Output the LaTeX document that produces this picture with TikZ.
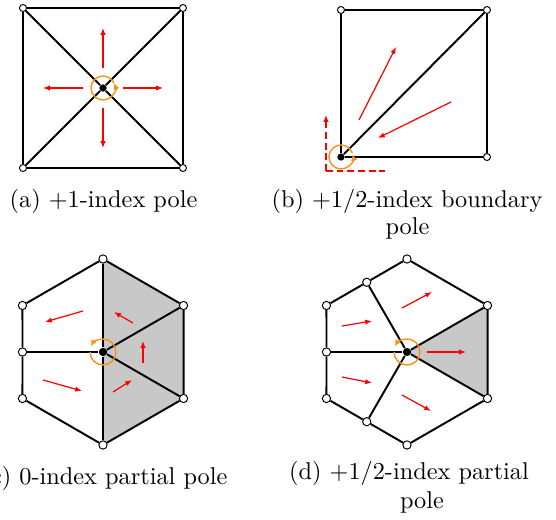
\documentclass[tikz,border=0pt]{standalone}
\usepackage{tikz}
\usetikzlibrary{arrows.meta,positioning,backgrounds}
\definecolor{Flow}{HTML}{FF0000}
\definecolor{Turn}{HTML}{F7931E}
\definecolor{Shade}{HTML}{C8C8C8}

\begin{document}
\begin{tikzpicture}[
  x=0.4115pt,y=0.4115pt,
  edge/.style={line width=0.8pt,draw=black},
  vtx/.style={circle,draw=black,fill=white,line width=0.4pt,inner sep=0pt,minimum size=2.9pt},
  bvtx/.style={vtx,minimum size=3.4pt},
  pole/.style={circle,fill=black,inner sep=0pt,minimum size=3pt},
  bpole/.style={pole,minimum size=3.4pt},
  vec/.style={-{Latex[length=2.8pt,width=2.2pt]},line width=0.5pt,draw=Flow},
  axisline/.style={line width=0.5pt,draw=Flow,dash pattern=on 2.8pt off 1.6pt},
  turn/.style={-{Latex[length=2.6pt,width=2.6pt]},line width=0.6pt,draw=Turn},
  subcap/.style={anchor=base,font=\normalsize}
]
\useasboundingbox (0,0) rectangle (556,520);

\begin{scope}[shift={(103,432)}]
\node[pole] (ap) at (0,0) {};
\node[vtx] (a1) at (-80,80) {};
\node[vtx] (a2) at (80,80) {};
\node[vtx] (a3) at (80,-80) {};
\node[vtx] (a4) at (-80,-80) {};
\draw[edge] (a1) -- (a2) -- (a3) -- (a4) -- (a1);
\draw[edge] (a1) -- (ap) -- (a3);
\draw[edge] (a2) -- (ap) -- (a4);
\foreach \ang in {0,90,180,270}
  \draw[vec] (\ang:20) -- (\ang:60);
\draw[turn] (25:12) arc[start angle=25,end angle=383,radius=12];
\end{scope}

\begin{scope}[shift={(341,363)}]
\node[pole] (bp) at (0,0) {};
\node[vtx] (b1) at (0,147) {};
\node[vtx] (b2) at (146,147) {};
\node[vtx] (b3) at (146,0) {};
\draw[edge] (bp) -- (b1) -- (b2) -- (b3) -- (bp);
\draw[edge] (bp) -- (b2);
\draw[vec] (18,37) -- (55,110);
\draw[vec] (110,55) -- (37,19);
\coordinate (bo) at (-15,-14);
\draw[axisline,-{Latex[length=2.8pt,width=2.2pt]}] (bo) -- ++(0,56);
\draw[axisline] (bo) -- ++(59,0);
\draw[turn] (20:12) arc[start angle=20,end angle=373,radius=12];
\end{scope}

\begin{scope}[shift={(103,168)}]
\node[bpole] (cp) at (0,0) {};
\node[bvtx] (c1) at (90:93) {};
\node[bvtx] (c2) at (30:93) {};
\node[bvtx] (c3) at (-30:93) {};
\node[bvtx] (c4) at (-90:93) {};
\node[bvtx] (c5) at (210:93) {};
\node[bvtx] (c6) at (180:80.5) {};
\node[bvtx] (c7) at (150:93) {};
\begin{scope}[on background layer]
\fill[Shade] (c1.center) -- (c2.center) -- (c3.center) -- (c4.center) -- (cp.center) -- cycle;
\end{scope}
\draw[edge] (c1) -- (c2) -- (c3) -- (c4) -- (c5) -- (c6) -- (c7) -- (c1);
\draw[edge] (c1) -- (cp) -- (c4);
\draw[edge] (c6) -- (cp);
\draw[edge] (c2) -- (cp) -- (c3);
\draw[vec] (-20,41) -- (-58,30);
\draw[vec] (-60,-28) -- (-21,-39);
\draw[vec] (30,29) -- (11,40);
\draw[vec] (40,-11) -- (40,11);
\draw[vec] (10,-40) -- (29,-28);
\draw[turn] (180:13) arc[start angle=180,end angle=515,radius=13];
\end{scope}

\begin{scope}[shift={(407,168)}]
\node[bpole] (dp) at (0,0) {};
\node[bvtx] (d1) at (90:93) {};
\node[bvtx] (d2) at (30:93) {};
\node[bvtx] (d3) at (-30:93) {};
\node[bvtx] (d4) at (-90:93) {};
\node[bvtx] (d5) at (240:80.5) {};
\node[bvtx] (d6) at (210:93) {};
\node[bvtx] (d7) at (180:80.5) {};
\node[bvtx] (d8) at (150:93) {};
\node[bvtx] (d9) at (120:80.5) {};
\begin{scope}[on background layer]
\fill[Shade] (dp.center) -- (d2.center) -- (d3.center) -- cycle;
\end{scope}
\draw[edge] (d1) -- (d2) -- (d3) -- (d4) -- (d5) -- (d6) -- (d7) -- (d8) -- (d9) -- (d1);
\draw[edge] (d9) -- (dp) -- (d5);
\draw[edge] (d7) -- (dp);
\draw[edge] (d2) -- (dp) -- (d3);
\draw[vec] (-65,26) -- (-35,31);
\draw[vec] (-5,44) -- (25,60);
\draw[vec] (-65,-25) -- (-35,-31);
\draw[vec] (-5,-43) -- (24,-59);
\draw[vec] (20,0) -- (59,0);
\draw[turn] (180:13) arc[start angle=180,end angle=515,radius=13];
\end{scope}

\node[subcap] (capa) at (103.5,312.5) {(a) +1-index pole};
\node[subcap] (capb) at (407,312.5) {(b) +1/2-index boundary};
\node[subcap] (capb2) at (407.5,285) {pole};
\node[subcap] (capc) at (104.5,35.7) {(c) 0-index partial pole};
\node[subcap] (capd) at (409,40) {(d) +1/2-index partial};
\node[subcap] (capd2) at (422,11.7) {pole};
\end{tikzpicture}
\end{document}
